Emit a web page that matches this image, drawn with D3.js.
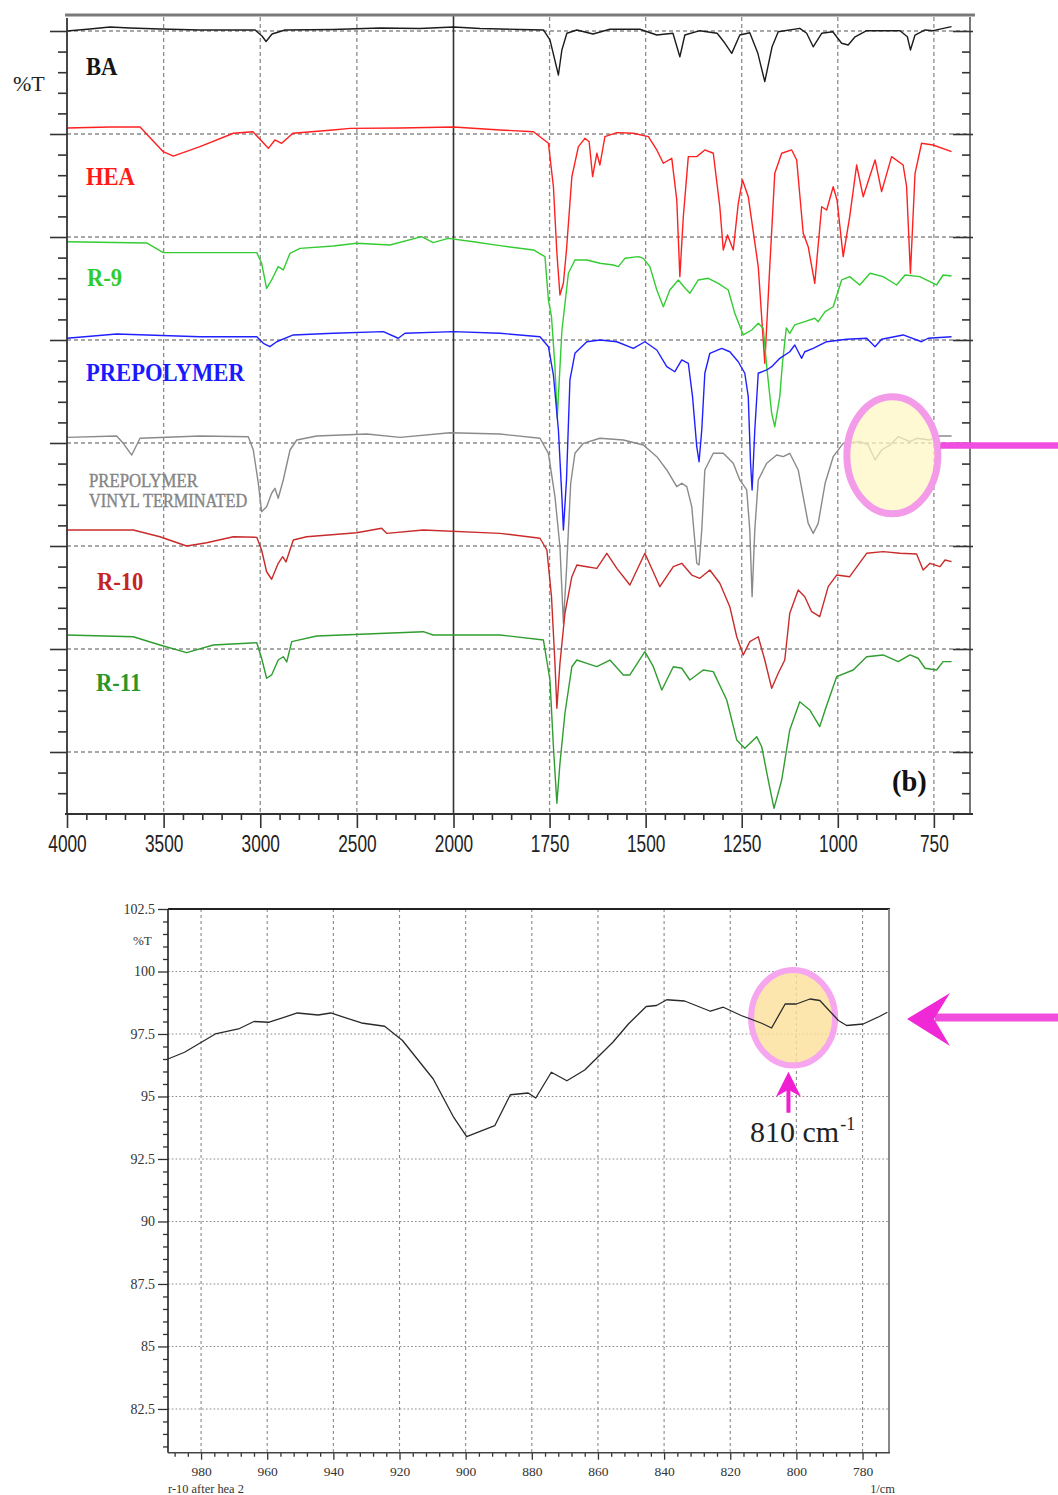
<!DOCTYPE html>
<html>
<head>
<meta charset="utf-8">
<script src="https://cdn.jsdelivr.net/npm/d3@7"></script>
<style>
  body { margin: 0; background: #fff; }
  svg { display: block; }
</style>
</head>
<body>
<svg id="chart" width="1058" height="1495"></svg>
<script>
// ---------- FTIR spectra, stacked overview: [wavenumber (cm-1), stacked %T units] ----------
const baSpectrum = [[4000,70.0],[3881,70.19],[3778,70.39],[3674,70.29],[3519,70.19],[3312,70.10],[3027,70.10],[2991,69.51],[2970,68.98],[2939,69.71],[2872,70.10],[2622,70.15],[2380,70.29],[2173,70.24],[2000,70.39],[1931,70.24],[1827,70.15],[1766,70.10],[1749,69.13],[1727,65.73],[1718,68.16],[1705,69.78],[1679,70.10],[1637,69.71],[1593,70.17],[1515,70.17],[1471,69.61],[1429,69.78],[1411,67.50],[1398,69.61],[1359,70.03],[1314,69.78],[1294,68.83],[1276,67.83],[1255,69.61],[1229,69.83],[1208,67.83],[1190,65.08],[1171,68.47],[1155,69.93],[1099,70.26],[1081,69.78],[1064,68.47],[1042,69.78],[1013,69.93],[990,68.81],[973,68.64],[955,69.44],[925,70.03],[838,70.03],[819,69.44],[811,68.16],[799,69.61],[773,70.10],[752,70.03],[704,70.42]];

const heaSpectrum = [[4000,60.58],[3778,60.68],[3622,60.68],[3502,58.28],[3450,57.86],[3312,58.77],[3139,60.07],[3038,60.22],[2958,58.61],[2924,59.42],[2889,59.10],[2831,60.07],[2624,60.39],[2536,60.55],[2277,60.58],[2000,60.68],[1879,60.39],[1792,60.22],[1753,59.10],[1740,54.88],[1731,48.45],[1723,44.37],[1714,45.53],[1706,48.74],[1692,55.86],[1675,58.77],[1658,59.58],[1647,59.25],[1638,55.86],[1627,58.13],[1619,56.99],[1606,59.74],[1575,60.13],[1532,60.07],[1493,59.74],[1471,58.45],[1454,57.16],[1432,57.64],[1419,53.59],[1411,46.15],[1402,51.97],[1389,57.80],[1367,57.80],[1346,58.45],[1324,58.13],[1307,52.94],[1298,48.74],[1287,50.19],[1272,48.74],[1259,53.27],[1248,55.53],[1233,53.91],[1207,47.12],[1190,37.74],[1177,47.12],[1164,56.18],[1146,58.13],[1120,58.45],[1107,57.48],[1090,50.36],[1077,49.06],[1060,45.50],[1042,52.94],[1029,52.62],[1012,54.88],[1002,53.59],[986,48.09],[969,51.97],[951,56.99],[934,53.91],[903,57.48],[886,54.40],[860,57.80],[830,56.99],[821,54.88],[811,46.48],[799,56.18],[782,59.10],[752,58.93],[704,58.28]];

const r9Spectrum = [[4000,49.54],[3588,49.42],[3502,48.48],[3018,48.48],[2993,47.45],[2967,45.02],[2941,45.83],[2907,47.12],[2881,46.80],[2846,48.42],[2794,48.90],[2622,49.13],[2501,49.39],[2329,49.22],[2165,50.03],[2105,49.45],[2027,49.87],[1948,49.54],[1879,49.16],[1792,48.74],[1762,48.09],[1753,43.88],[1745,42.26],[1736,37.41],[1730,32.40],[1718,40.87],[1701,46.48],[1684,47.77],[1653,47.77],[1619,47.45],[1584,47.28],[1571,47.12],[1554,47.93],[1519,48.09],[1506,47.93],[1489,47.12],[1471,44.85],[1454,43.23],[1437,44.85],[1415,45.83],[1400,45.15],[1385,44.53],[1363,45.83],[1337,45.99],[1311,45.50],[1285,44.85],[1268,42.59],[1246,40.49],[1224,40.97],[1207,41.62],[1194,41.14],[1185,37.41],[1172,32.88],[1164,31.58],[1151,34.50],[1144,37.74],[1134,41.17],[1125,40.65],[1112,41.46],[1086,41.78],[1060,42.11],[1051,41.78],[1033,42.75],[1012,43.23],[990,45.83],[969,46.15],[943,45.34],[916,46.48],[882,46.15],[847,45.34],[825,46.31],[787,46.15],[743,45.34],[726,46.31],[704,46.21]];

const prepolymerSpectrum = [[4000,40.17],[3743,40.58],[3312,40.32],[3018,40.32],[2984,39.68],[2950,39.35],[2915,39.83],[2829,40.49],[2622,40.65],[2363,40.81],[2286,40.17],[2251,40.65],[2000,40.81],[1879,40.65],[1775,40.32],[1753,39.35],[1740,36.60],[1727,31.26],[1718,24.79],[1714,21.55],[1706,26.41],[1697,36.12],[1684,38.71],[1653,39.83],[1619,40.0],[1575,39.83],[1532,39.19],[1502,39.83],[1471,39.03],[1445,37.41],[1424,36.92],[1406,38.06],[1389,37.74],[1378,34.50],[1367,29.64],[1361,28.18],[1354,31.26],[1346,36.77],[1333,38.71],[1302,39.19],[1281,38.86],[1259,37.89],[1242,36.77],[1233,34.50],[1227,28.03],[1223,25.44],[1216,31.26],[1207,36.77],[1185,37.09],[1172,37.41],[1151,38.22],[1125,38.86],[1112,39.51],[1103,38.86],[1094,38.22],[1086,38.86],[1064,39.19],[1029,39.83],[977,40.07],[925,40.17],[903,39.35],[886,40.07],[830,40.49],[782,39.83],[765,40.17],[704,40.32]];

const vinylSpectrum = [[4000,30.55],[3743,30.68],[3709,29.97],[3665,28.83],[3622,30.46],[3312,30.68],[3062,30.61],[3036,29.32],[3010,26.09],[2993,23.33],[2967,23.82],[2941,25.12],[2924,25.60],[2907,24.63],[2881,26.41],[2846,29.32],[2811,30.29],[2708,30.68],[2449,30.87],[2277,30.55],[2018,31.0],[1879,30.87],[1775,30.46],[1753,29.0],[1736,24.79],[1723,19.93],[1714,12.50],[1706,17.67],[1695,26.09],[1684,29.0],[1662,29.97],[1619,30.46],[1558,30.29],[1506,29.81],[1471,28.67],[1445,27.38],[1419,25.76],[1406,26.09],[1393,25.76],[1380,23.82],[1367,18.32],[1361,18.16],[1354,21.55],[1346,27.38],[1324,29.0],[1298,29.0],[1272,28.03],[1255,26.41],[1237,25.44],[1229,21.55],[1223,15.08],[1216,21.55],[1207,26.41],[1185,28.03],[1159,28.83],[1142,28.67],[1125,29.0],[1103,27.38],[1090,24.79],[1077,22.20],[1064,21.23],[1051,22.20],[1033,26.09],[1012,28.67],[986,29.97],[943,30.13],[921,29.81],[903,28.35],[886,29.32],[864,29.81],[843,30.61],[812,30.13],[795,30.46],[760,30.29],[743,30.68],[704,30.68]];

const r10Spectrum = [[4000,21.55],[3657,21.55],[3519,20.90],[3381,20.0],[3277,20.32],[3139,20.90],[3018,20.84],[2993,19.61],[2967,17.50],[2941,16.77],[2907,18.32],[2884,18.96],[2867,18.45],[2829,20.58],[2760,20.90],[2501,21.29],[2372,21.72],[2346,21.23],[2156,21.55],[1879,21.23],[1775,20.75],[1757,19.61],[1745,15.08],[1736,8.61],[1731,4.24],[1723,8.61],[1710,13.47],[1692,17.02],[1679,18.16],[1653,17.99],[1627,17.83],[1601,19.29],[1575,17.83],[1541,16.21],[1502,19.29],[1463,16.05],[1428,17.99],[1406,18.32],[1380,17.18],[1359,16.86],[1333,17.67],[1307,16.38],[1281,14.11],[1263,11.19],[1246,9.42],[1229,10.71],[1207,11.19],[1190,8.93],[1172,6.18],[1155,7.64],[1138,8.93],[1125,13.47],[1103,15.73],[1086,15.08],[1068,13.62],[1047,13.14],[1025,16.05],[1003,17.18],[969,17.02],[925,19.29],[882,19.45],[838,19.29],[795,19.22],[778,17.67],[760,18.32],[734,17.99],[721,18.64],[704,18.48]];

const r11Spectrum = [[4000,11.36],[3657,11.19],[3519,10.39],[3381,9.64],[3243,10.39],[3018,10.61],[2993,9.10],[2967,7.16],[2941,7.48],[2907,8.93],[2881,9.25],[2863,8.74],[2837,10.71],[2708,11.26],[2156,11.68],[2105,11.36],[1879,11.36],[1766,10.87],[1749,6.99],[1740,0.51],[1731,-4.98],[1723,-1.10],[1710,3.76],[1692,8.28],[1679,8.93],[1653,8.61],[1627,8.28],[1593,8.93],[1558,7.48],[1541,7.48],[1502,9.74],[1480,8.28],[1458,6.02],[1428,8.28],[1406,8.13],[1385,6.99],[1350,7.96],[1324,7.80],[1289,5.05],[1263,1.17],[1242,0.36],[1211,1.49],[1198,0.51],[1181,-2.72],[1166,-5.47],[1146,-2.72],[1125,2.14],[1099,4.88],[1073,4.08],[1047,2.46],[1033,4.08],[1003,7.31],[960,7.96],[925,9.25],[882,9.42],[843,8.77],[812,9.42],[791,9.10],[773,8.13],[743,7.96],[726,8.77],[704,8.77]];

// ---------- enlarged region: R-10 after HEA, [wavenumber (cm-1), %T] ----------
const r10AfterHeaSpectrum = [[990,96.5],[985,96.77],[975.7,97.5],[968.7,97.70],[964,98.0],[959.4,97.97],[950.9,98.34],[944.6,98.26],[940.8,98.34],[931.5,97.94],[924.5,97.81],[919.1,97.24],[909.8,95.70],[903.6,94.16],[899.7,93.39],[891.2,93.83],[886.5,95.07],[881.1,95.14],[878.8,94.94],[874.1,95.97],[869.4,95.63],[864,96.06],[855.5,97.17],[850.8,97.9],[845.4,98.6],[842.3,98.64],[839.2,98.87],[833.8,98.82],[826,98.41],[822.1,98.57],[816.7,98.24],[810.5,97.93],[807.5,97.74],[803.4,98.7],[800,98.7],[795.9,98.9],[792.9,98.84],[787.3,98.04],[784.8,97.84],[779.8,97.9],[774.9,98.2],[772.5,98.37]];

// ---------- ticks ----------
const topXTickLabels = [4000, 3500, 3000, 2500, 2000, 1750, 1500, 1250, 1000, 750];
const topGridWavenumbers = [3500, 3000, 2500, 1750, 1500, 1250, 1000, 750];
const topYMajor = [0, 10, 20, 30, 40, 50, 60, 70];
const bottomXTickLabels = [980, 960, 940, 920, 900, 880, 860, 840, 820, 800, 780];
const bottomYTickLabels = [82.5, 85, 87.5, 90, 92.5, 95, 97.5, 100, 102.5];

const seriesColors = {
  ba: "#1c1c1c", hea: "#ff2020", r9: "#33cc33", prepolymer: "#2020ff",
  vinyl: "#8a8a8a", r10: "#c92b2b", r11: "#2f9d2f"
};

const svg = d3.select("#chart");
const serif = "'Liberation Serif', 'Times New Roman', serif";

// Wavenumber axis is compressed 2x above 2000 cm-1, as on the instrument printout
const xTop = d3.scaleLinear().domain([4000, 2000, 656]).range([67, 453.5, 970]);
const yTop = d3.scaleLinear().domain([-6.02, 71.65]).range([814, 14]);

const xBot = d3.scaleLinear().domain([990, 772]).range([168, 889]);
const yBot = d3.scaleLinear().domain([80.75, 102.5]).range([1452.7, 909]);

function label(g, txt, x, y, o) {
  return g.append("text")
    .attr("transform", `translate(${x},${y}) scale(${o.sx || 1},1)`)
    .attr("font-family", o.family || serif)
    .attr("font-size", o.size)
    .attr("font-weight", o.weight || "normal")
    .attr("fill", o.color || "#111")
    .attr("stroke", o.stroke || "none")
    .attr("stroke-width", o.strokeWidth || 0)
    .attr("text-anchor", o.anchor || "start")
    .text(txt);
}

// ====================== TOP PANEL ======================
const topPanel = svg.append("g");
const [tx0, tx1] = [xTop(4000), xTop(656)];
const [ty0, ty1] = [yTop(-6.02), yTop(71.65)];

// dashed grid
topPanel.append("g").selectAll("line").data(topYMajor).join("line")
  .attr("x1", tx0).attr("x2", tx1)
  .attr("y1", d => yTop(d)).attr("y2", d => yTop(d))
  .attr("stroke", "#8c8c8c").attr("stroke-width", 1.4).attr("stroke-dasharray", "4,3");
topPanel.append("g").selectAll("line").data(topGridWavenumbers).join("line")
  .attr("x1", d => xTop(d)).attr("x2", d => xTop(d))
  .attr("y1", ty1 + 3).attr("y2", ty0)
  .attr("stroke", "#8c8c8c").attr("stroke-width", 1.3).attr("stroke-dasharray", "4,3");
// scale break at 2000 cm-1
topPanel.append("line")
  .attr("x1", xTop(2000)).attr("x2", xTop(2000)).attr("y1", ty1).attr("y2", ty0)
  .attr("stroke", "#333").attr("stroke-width", 1.6);

// spectra
const topLine = d3.line().x(d => xTop(d[0])).y(d => yTop(d[1]));
const topSpectra = [
  [baSpectrum, seriesColors.ba], [heaSpectrum, seriesColors.hea], [r9Spectrum, seriesColors.r9],
  [prepolymerSpectrum, seriesColors.prepolymer], [vinylSpectrum, seriesColors.vinyl],
  [r10Spectrum, seriesColors.r10], [r11Spectrum, seriesColors.r11]
];
topPanel.append("g").selectAll("path").data(topSpectra).join("path")
  .attr("d", d => topLine(d[0]))
  .attr("fill", "none").attr("stroke", d => d[1])
  .attr("stroke-width", 1.4).attr("stroke-linejoin", "round");

// frame
topPanel.append("line").attr("x1", tx0 - 2).attr("x2", tx1 + 5).attr("y1", 15).attr("y2", 15)
  .attr("stroke", "#7a7a7a").attr("stroke-width", 3);
topPanel.append("line").attr("x1", tx1).attr("x2", tx1).attr("y1", 17).attr("y2", ty0)
  .attr("stroke", "#777").attr("stroke-width", 2);

// axes
const topYMinor = d3.range(-4, 71, 2).filter(v => v % 10 !== 0);
const topXMinor = d3.range(3900, 2000, -100).concat(d3.range(1950, 650, -50))
  .filter(v => !topXTickLabels.includes(v));

function styleAxis(g) {
  g.select(".domain").remove();
  g.selectAll(".tick line").attr("stroke", "#333").attr("stroke-width", 1.6);
}
topPanel.append("g").attr("transform", `translate(${tx0},0)`)
  .call(d3.axisLeft(yTop).tickValues(topYMajor).tickSize(17).tickFormat("")).call(styleAxis);
topPanel.append("g").attr("transform", `translate(${tx0},0)`)
  .call(d3.axisLeft(yTop).tickValues(topYMinor).tickSize(9).tickFormat("")).call(styleAxis);
topPanel.append("g").attr("transform", `translate(${tx1 + 3},0)`)
  .call(d3.axisLeft(yTop).tickValues(topYMajor).tickSize(20).tickFormat("")).call(styleAxis);
topPanel.append("g").attr("transform", `translate(${tx1},0)`)
  .call(d3.axisLeft(yTop).tickValues(topYMinor).tickSize(8).tickFormat("")).call(styleAxis);

topPanel.append("line").attr("x1", tx0).attr("x2", tx0).attr("y1", 18).attr("y2", ty0)
  .attr("stroke", "#333").attr("stroke-width", 1.8);
topPanel.append("line").attr("x1", tx0 - 2).attr("x2", tx1 + 3).attr("y1", ty0).attr("y2", ty0)
  .attr("stroke", "#333").attr("stroke-width", 1.8);

topPanel.append("g").attr("transform", `translate(0,${ty0})`)
  .call(d3.axisBottom(xTop).tickValues(topXMinor).tickSize(6).tickFormat("")).call(styleAxis);
const topXAxis = topPanel.append("g").attr("transform", `translate(0,${ty0})`)
  .call(d3.axisBottom(xTop).tickValues(topXTickLabels).tickSize(14).tickFormat(d3.format("d")))
  .call(styleAxis);
topXAxis.selectAll("text")
  .attr("y", 21).attr("dy", "0.71em")
  .attr("transform", "scale(0.72,1)")
  .attr("font-family", "'Liberation Sans', Arial, sans-serif")
  .attr("font-size", 24).attr("fill", "#222");

// labels
label(topPanel, "%T", 13, 91, { size: 22, color: "#222" });
label(topPanel, "BA", xTop(3902), yTop(65.73), { size: 26, weight: "bold", sx: 0.87, color: "#151515" });
label(topPanel, "HEA", xTop(3902), yTop(55.05), { size: 26, weight: "bold", sx: 0.87, color: "#ff1a1a" });
label(topPanel, "R-9", xTop(3897), yTop(45.24), { size: 26, weight: "bold", sx: 0.87, color: "#2fcc2f" });
label(topPanel, "PREPOLYMER", xTop(3902), yTop(36.02), { size: 26, weight: "bold", sx: 0.87, color: "#1a1aff" });
label(topPanel, "PREPOLYMER", xTop(3886), yTop(25.73), { size: 19, sx: 0.88, color: "#858585", stroke: "#858585", strokeWidth: 0.4 });
label(topPanel, "VINYL TERMINATED", xTop(3886), yTop(23.79), { size: 19, sx: 0.86, color: "#858585", stroke: "#858585", strokeWidth: 0.4 });
label(topPanel, "R-10", xTop(3845), yTop(15.73), { size: 26, weight: "bold", sx: 0.87, color: "#c42424" });
label(topPanel, "R-11", xTop(3850), yTop(5.92), { size: 26, weight: "bold", sx: 0.87, color: "#2a962a" });
label(topPanel, "(b)", xTop(859), yTop(-3.79), { size: 30, weight: "bold", sx: 0.95, color: "#111" });

// highlight of the 810 cm-1 region on the vinyl-terminated prepolymer
topPanel.append("ellipse")
  .attr("cx", xTop(858)).attr("cy", yTop(28.8)).attr("rx", 45.5).attr("ry", 58.5)
  .attr("fill", "#fff6c2").attr("fill-opacity", 0.72)
  .attr("stroke", "#f39be8").attr("stroke-width", 7);
topPanel.append("line")
  .attr("x1", xTop(858) + 48).attr("x2", 1058)
  .attr("y1", yTop(29.75)).attr("y2", yTop(29.75))
  .attr("stroke", "#f04ee0").attr("stroke-width", 6.5);

// ====================== BOTTOM PANEL ======================
const botPanel = svg.append("g");
const [bx0, bx1] = [xBot(990), xBot(772)];
const [by0, by1] = [yBot(80.75), yBot(102.5)];

botPanel.append("g").selectAll("line").data(bottomYTickLabels.filter(v => v < 102.5)).join("line")
  .attr("x1", bx0).attr("x2", bx1).attr("y1", d => yBot(d)).attr("y2", d => yBot(d))
  .attr("stroke", "#8a8a8a").attr("stroke-width", 1.1).attr("stroke-dasharray", "1.6,2.2");
botPanel.append("g").selectAll("line").data(bottomXTickLabels).join("line")
  .attr("x1", d => xBot(d)).attr("x2", d => xBot(d)).attr("y1", by1).attr("y2", by0)
  .attr("stroke", "#8a8a8a").attr("stroke-width", 1.1).attr("stroke-dasharray", "3,3");

// highlight around the 810 cm-1 band
botPanel.append("ellipse")
  .attr("cx", xBot(801)).attr("cy", yBot(98.15)).attr("rx", 42).attr("ry", 47.7)
  .attr("fill", "#fbe19c").attr("fill-opacity", 0.82)
  .attr("stroke", "#f6a6ee").attr("stroke-width", 6);

const botLine = d3.line().x(d => xBot(d[0])).y(d => yBot(d[1]));
botPanel.append("path").datum(r10AfterHeaSpectrum)
  .attr("d", botLine).attr("fill", "none")
  .attr("stroke", "#2a2a2a").attr("stroke-width", 1.3).attr("stroke-linejoin", "round");

// frame
botPanel.append("line").attr("x1", bx0).attr("x2", bx1 + 1).attr("y1", by1).attr("y2", by1)
  .attr("stroke", "#222").attr("stroke-width", 2);
botPanel.append("line").attr("x1", bx1).attr("x2", bx1).attr("y1", by1).attr("y2", by0)
  .attr("stroke", "#888").attr("stroke-width", 2);

// axes
const botYMinor = d3.range(81, 102.6, 0.5)
  .filter(v => Math.abs(v / 2.5 - Math.round(v / 2.5)) > 1e-6);
const botXMinor = d3.range(988, 772, -4).filter(v => v % 20 !== 0);

function styleBotAxis(g) {
  g.select(".domain").remove();
  g.selectAll(".tick line").attr("stroke", "#333").attr("stroke-width", 1.3);
}
botPanel.append("g").attr("transform", `translate(${bx0},0)`)
  .call(d3.axisLeft(yBot).tickValues(botYMinor).tickSize(5).tickFormat("")).call(styleBotAxis);
const botYAxis = botPanel.append("g").attr("transform", `translate(${bx0},0)`)
  .call(d3.axisLeft(yBot).tickValues(bottomYTickLabels).tickSize(10).tickPadding(3)
    .tickFormat(d => (d % 1 ? d.toFixed(1) : String(d))))
  .call(styleBotAxis);
botYAxis.selectAll("text").attr("font-family", serif).attr("font-size", 14).attr("fill", "#333");

botPanel.append("g").attr("transform", `translate(0,${by0})`)
  .call(d3.axisBottom(xBot).tickValues(botXMinor).tickSize(4).tickFormat("")).call(styleBotAxis);
const botXAxis = botPanel.append("g").attr("transform", `translate(0,${by0})`)
  .call(d3.axisBottom(xBot).tickValues(bottomXTickLabels).tickSize(7).tickFormat(d3.format("d")))
  .call(styleBotAxis);
botXAxis.selectAll("text").attr("y", 14).attr("dy", "0.71em")
  .attr("font-family", serif).attr("font-size", 13.5).attr("fill", "#333");

botPanel.append("line").attr("x1", bx0).attr("x2", bx0).attr("y1", by1).attr("y2", by0)
  .attr("stroke", "#222").attr("stroke-width", 1.6);
botPanel.append("line").attr("x1", bx0).attr("x2", bx1 + 1).attr("y1", by0).attr("y2", by0)
  .attr("stroke", "#444").attr("stroke-width", 1.6);

label(botPanel, "%T", bx0 - 35, yBot(101.05), { size: 13, color: "#333" });
label(botPanel, "r-10 after hea 2", bx0, by0 + 40, { size: 13.5, color: "#333", sx: 0.92 });
label(botPanel, "1/cm", bx1 + 6, by0 + 40, { size: 13.5, color: "#333", anchor: "end", sx: 0.92 });

// annotation: upward arrow + band position
const ax = xBot(802.4);
const ayTip = yBot(98.15) + 54;
botPanel.append("line").attr("x1", ax).attr("x2", ax).attr("y1", ayTip + 17).attr("y2", ayTip + 41)
  .attr("stroke", "#f020d2").attr("stroke-width", 4);
botPanel.append("path")
  .attr("d", `M${ax},${ayTip} L${ax - 12.5},${ayTip + 25} L${ax},${ayTip + 18} L${ax + 12.5},${ayTip + 25} Z`)
  .attr("fill", "#f020d2");
const t810 = botPanel.append("text")
  .attr("x", 750).attr("y", ayTip + 70)
  .attr("font-family", serif).attr("font-size", 30).attr("fill", "#222");
t810.append("tspan").text("810 cm");
t810.append("tspan").attr("font-size", 18).attr("dy", -12).attr("dx", 1).text("-1");

// annotation: large arrow pointing at the panel
const ay = yBot(98.1);
const tipX = bx1 + 18;
botPanel.append("line").attr("x1", tipX + 28).attr("x2", 1058).attr("y1", ay - 1.5).attr("y2", ay - 1.5)
  .attr("stroke", "#f24ede").attr("stroke-width", 8);
botPanel.append("path")
  .attr("d", `M${tipX},${ay} L${tipX + 43},${ay - 26} L${tipX + 27},${ay} L${tipX + 43},${ay + 27} Z`)
  .attr("fill", "#f028d6");
</script>
</body>
</html>
